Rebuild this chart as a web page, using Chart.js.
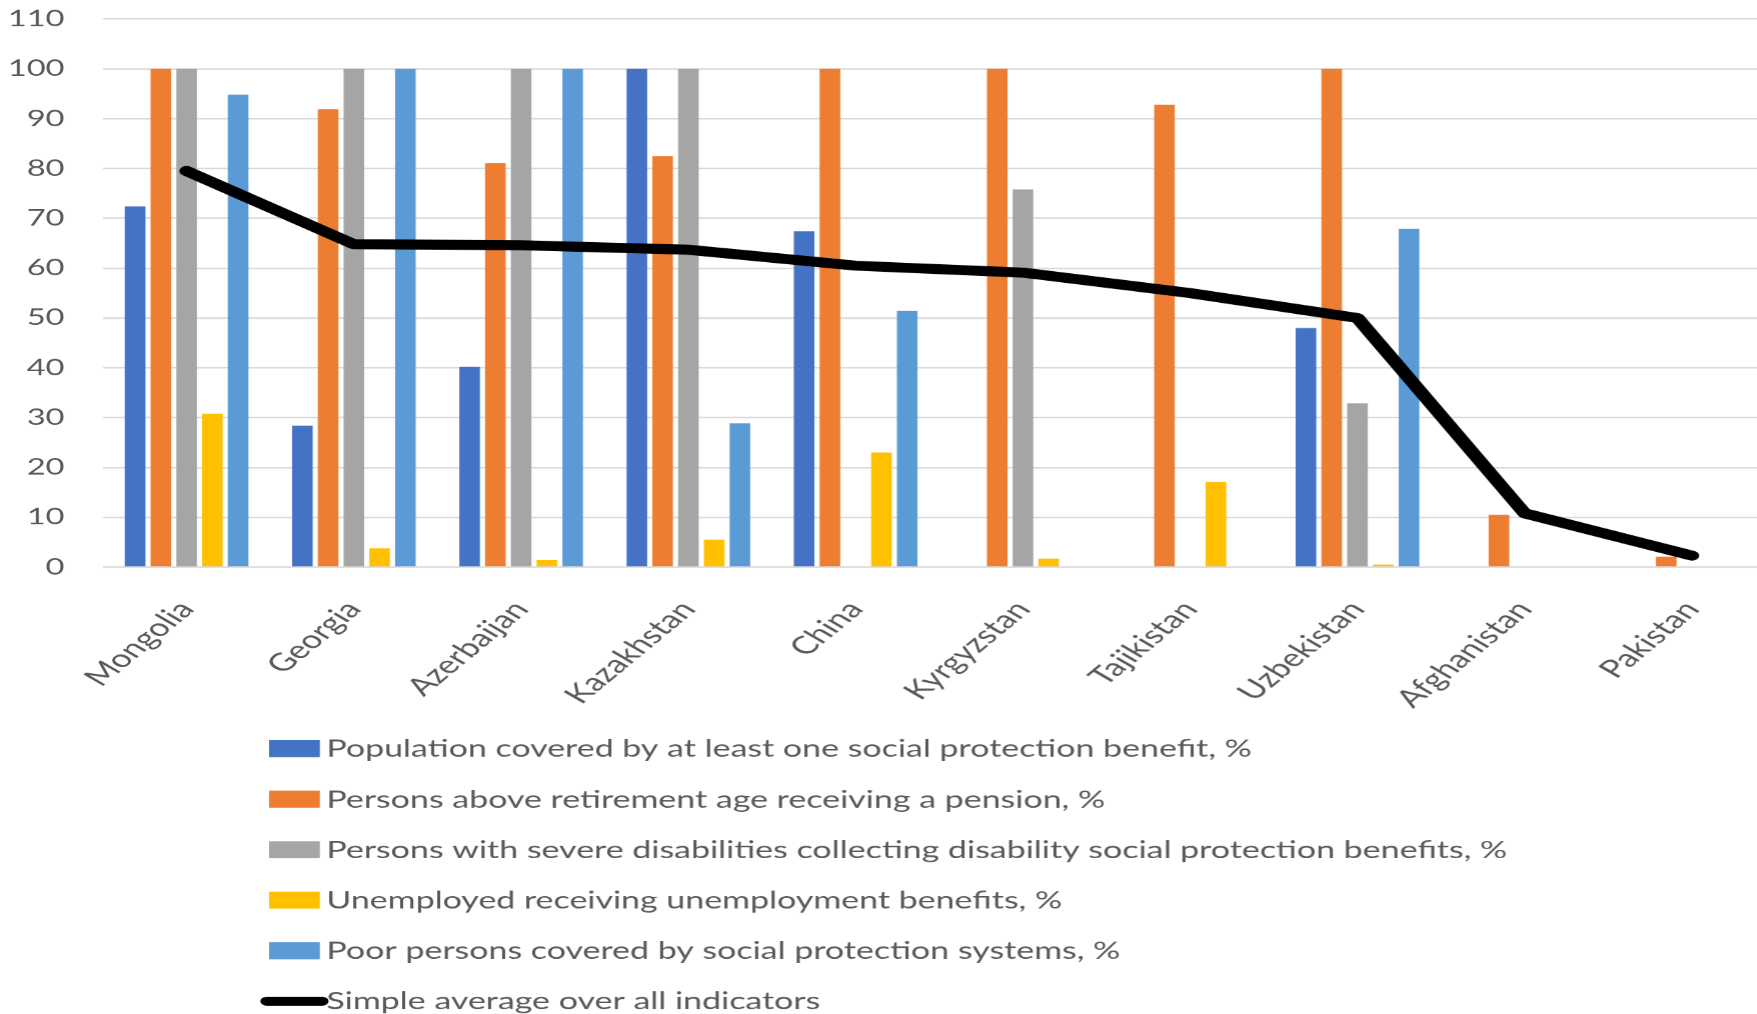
<!DOCTYPE html>
<html>
<head>
<meta charset="utf-8">
<script src="https://cdn.jsdelivr.net/npm/chart.js@4.4.1/dist/chart.umd.min.js"></script>
<style>
  html, body { margin: 0; padding: 0; background: #fff; overflow: hidden; }
  /* the source figure is a chart stretched sideways, so draw narrow and widen;
     the plot runs a little past the right edge of the picture */
  #wrap { width: 1224px; height: 1014px; transform: scaleX(1.45); transform-origin: 0 0; }
</style>
</head>
<body>
<div id="wrap"><canvas id="chart" width="1224" height="1014"></canvas></div>
<script>
const countries = ["Mongolia", "Georgia", "Azerbaijan", "Kazakhstan", "China", "Kyrgyzstan", "Tajikistan", "Uzbekistan", "Afghanistan", "Pakistan"]

const populationCovered = [72.4, 28.4, 40.2, 100, 67.4, null, null, 48.0, null, null]
const pensionReceivers = [100, 91.9, 81.1, 82.5, 100, 100, 92.8, 100, 10.5, 2.1]
const disabilityBenefits = [100, 100, 100, 100, null, 75.8, null, 32.9, null, null]
const unemploymentBenefits = [30.8, 3.8, 1.4, 5.5, 23.0, 1.7, 17.1, 0.5, null, null]
const poorCovered = [94.8, 100, 100, 28.9, 51.4, null, null, 67.9, null, null]
const simpleAverage = [79.5, 64.8, 64.6, 63.7, 60.5, 59.1, 55.0, 50.0, 10.8, 2.3]

const yMax = 110
const yStep = 10

const seriesNames = [
  "Population covered by at least one social protection benefit, %",
  "Persons above retirement age receiving a pension, %",
  "Persons with severe disabilities collecting disability social protection benefits, %",
  "Unemployed receiving unemployment benefits, %",
  "Poor persons covered by social protection systems, %",
  "Simple average over all indicators",
]

const textColor = "#595959"

const barSet = (label, data, color) => ({
  type: "bar",
  label: label,
  data: data,
  backgroundColor: color,
  borderWidth: 0,
  categoryPercentage: 0.77,
  barPercentage: 0.8,
  order: 1,
})

// one legend entry per row, under the axis labels
const rowLegend = {
  id: "rowLegend",
  afterDraw(chart) {
    const { ctx, chartArea } = chart
    ctx.save()
    ctx.font = "23.4px Lato"
    ctx.textBaseline = "alphabetic"
    chart.data.datasets.forEach((ds, i) => {
      const cy = chartArea.bottom + 181.5 + i * 50.5
      if (ds.type === "line") {
        ctx.strokeStyle = ds.borderColor
        ctx.lineWidth = 9
        ctx.lineCap = "round"
        ctx.beginPath()
        ctx.moveTo(184, cy)
        ctx.lineTo(222, cy)
        ctx.stroke()
      } else {
        ctx.fillStyle = ds.backgroundColor
        ctx.fillRect(185.5, cy - 8.5, 35, 17)
      }
      ctx.fillStyle = textColor
      ctx.fillText(ds.label, 225, cy + 8.3)
    })
    ctx.restore()
  },
}

const chart = new Chart(document.getElementById("chart"), {
  data: {
    labels: countries,
    datasets: [
      barSet(seriesNames[0], populationCovered, "#4472C4"),
      barSet(seriesNames[1], pensionReceivers, "#ED7D31"),
      barSet(seriesNames[2], disabilityBenefits, "#A5A5A5"),
      barSet(seriesNames[3], unemploymentBenefits, "#FFC000"),
      barSet(seriesNames[4], poorCovered, "#5B9BD5"),
      {
        type: "line",
        label: seriesNames[5],
        data: simpleAverage,
        borderColor: "#000000",
        backgroundColor: "#000000",
        borderWidth: 10,
        borderCapStyle: "round",
        borderJoinStyle: "round",
        pointRadius: 0,
        tension: 0,
        order: 0,
      },
    ],
  },
  options: {
    responsive: false,
    devicePixelRatio: 1.45,
    animation: false,
    layout: { padding: { top: 19, right: 0, bottom: 0, left: 0 } },
    scales: {
      x: {
        grid: { display: false, drawTicks: false },
        border: { display: false },
        ticks: {
          color: textColor,
          font: { family: "Lato", size: 24.8 },
          minRotation: 50,
          maxRotation: 50,
          autoSkip: false,
          padding: 28,
        },
        afterFit: (scale) => { scale.height = 447 },
      },
      y: {
        min: 0,
        max: yMax,
        grid: { color: "#d9d9d9", lineWidth: 1.5, drawTicks: false },
        border: { display: false },
        ticks: {
          stepSize: yStep,
          color: textColor,
          font: { family: "Lato", size: 22.5 },
          padding: 26.5,
        },
        afterFit: (scale) => {
          scale.width = 71
          scale.paddingTop = 0
          scale.paddingBottom = 0
        },
      },
    },
    plugins: {
      legend: { display: false },
      tooltip: { enabled: false },
    },
  },
  plugins: [rowLegend],
})
</script>
</body>
</html>
